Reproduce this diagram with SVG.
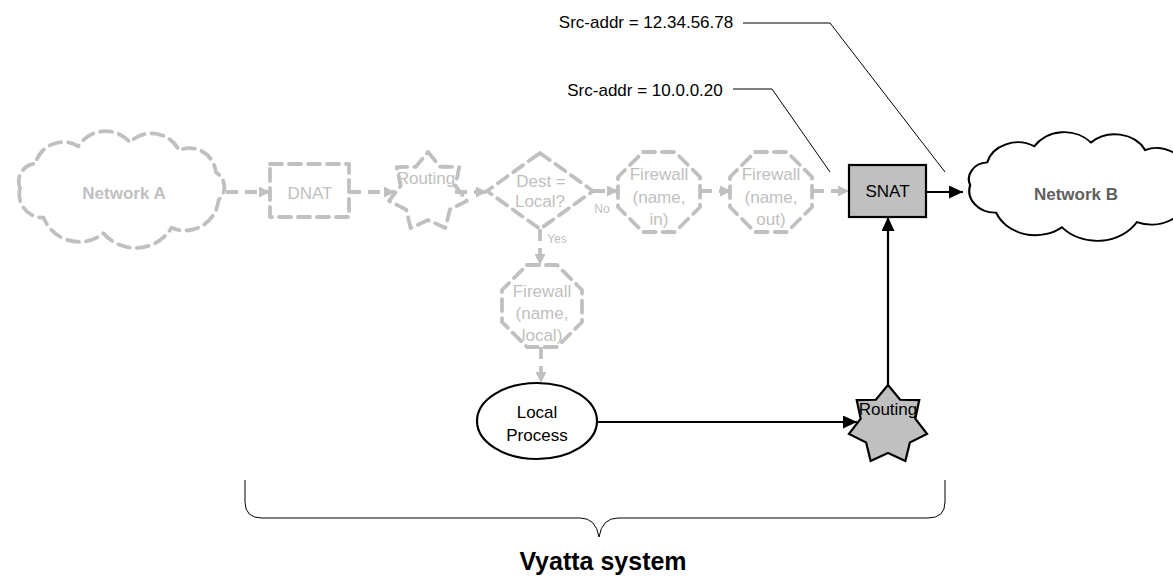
<svg xmlns="http://www.w3.org/2000/svg" width="1173" height="582" viewBox="0 0 1173 582">
<style>
text{font-family:"Liberation Sans",Arial,sans-serif;font-size:17px;text-anchor:middle}
.g{fill:none;stroke:#c0c0c0;stroke-width:3.8;stroke-dasharray:12 7;stroke-linecap:round;stroke-linejoin:round}
.gt{fill:#c0c0c0}
.gs{font-size:12px}
.big{font-size:25px;font-weight:bold}
.k{fill:none;stroke:#000;stroke-width:2.2}
.kf{fill:#c0c0c0;stroke:#000;stroke-width:2.2;stroke-linejoin:miter}
.thin{fill:none;stroke:#000;stroke-width:1}
.gc{fill:none;stroke:#c0c0c0;stroke-width:3.8;stroke-dasharray:12 7;marker-end:url(#ag)}
.kc{fill:none;stroke:#000;stroke-width:2.2;marker-end:url(#ak)}
</style>
<defs>
<marker id="ag" markerUnits="userSpaceOnUse" markerWidth="11" markerHeight="11" refX="11" refY="5.5" orient="auto"><path d="M0,0 L11,5.5 L0,11 Z" fill="#c0c0c0"/></marker>
<marker id="ak" markerUnits="userSpaceOnUse" markerWidth="14" markerHeight="13" refX="14" refY="6.5" orient="auto"><path d="M0,0 L14,6.5 L0,13 Z" fill="#000"/></marker>
<path id="cloud" d="M20,188 A17.9,17.9 0 0 1 35.4,163.6 A28.7,28.7 0 0 1 78.3,146.3 A32,32 0 0 1 129.8,142.2 A30.9,30.9 0 0 1 179,150.3 A26.6,26.6 0 0 1 215.9,172.3 A17.2,17.2 0 0 1 218.6,199.9 A33.9,33.9 0 0 1 171.5,227.8 A42.3,42.3 0 0 1 103.4,233.3 A38.3,38.3 0 0 1 43.6,217.6 A23.5,23.5 0 0 1 20,188 Z"/>
</defs>
<g id="connectors">
<path class="gc" d="M226,192 H270"/>
<path class="gc" d="M349,192 H395"/>
<path class="gc" d="M455,192 H487"/>
<path class="gc" d="M593,191 H618"/>
<path class="gc" d="M700,191 H731"/>
<path class="gc" d="M812,191 H849"/>
<path class="gc" d="M540,229 V265"/>
<path class="gc" d="M541,347 V383"/>
<path class="kc" d="M926,192 H963"/>
<path class="kc" d="M597,422 H857"/>
<path class="kc" d="M888,385 V217"/>
<text class="gt gs" x="602" y="213">No</text>
<text class="gt gs" x="557" y="243">Yes</text>
<path class="thin" d="M743,23 H830 L945,172"/>
<path class="thin" d="M733,89 H772 L830,172"/>
</g>
<g id="network-a">
<use href="#cloud" class="g"/>
<text class="gt" x="124" y="199" font-weight="bold">Network A</text>
</g>
<g id="dnat">
<rect class="g" x="270" y="164" width="79" height="53"/>
<text class="gt" x="310" y="199">DNAT</text>
</g>
<g id="routing-1">
<polygon class="g" points="428,152 440.15,166.77 459.27,167.06 455.3,185.77 467,200.9 449.89,209.46 445.36,228.04 428,220 410.64,228.04 406.11,209.46 389,200.9 400.7,185.77 396.73,167.06 415.85,166.77"/>
<text class="gt" x="426" y="184">Routing</text>
</g>
<g id="dest-local">
<polygon class="g" points="540,153 593,191 540,229 487,191"/>
<text class="gt" x="541" y="187">Dest =</text>
<text class="gt" x="540" y="207">Local?</text>
</g>
<g id="firewall-in">
<polygon class="g" points="643,152 675,152 700,177 700,207 675,232 643,232 618,207 618,177"/>
<text class="gt" x="659" y="180">Firewall</text>
<text class="gt" x="659" y="203">(name,</text>
<text class="gt" x="659" y="225">in)</text>
</g>
<g id="firewall-out">
<polygon class="g" points="755,152 787,152 812,177 812,207 787,232 755,232 730,207 730,177"/>
<text class="gt" x="771" y="180">Firewall</text>
<text class="gt" x="771" y="203">(name,</text>
<text class="gt" x="771" y="225">out)</text>
</g>
<g id="firewall-local">
<polygon class="g" points="527,265 557,265 582,290 582,322 557,347 527,347 502,322 502,290"/>
<text class="gt" x="542" y="297">Firewall</text>
<text class="gt" x="542" y="319">(name,</text>
<text class="gt" x="542" y="341">local)</text>
</g>
<g id="snat">
<rect class="kf" x="849" y="165" width="77" height="52"/>
<text x="887.5" y="197">SNAT</text>
</g>
<g id="network-b">
<use href="#cloud" fill="#fff" stroke="#000" stroke-width="2" vector-effect="non-scaling-stroke" transform="translate(1078,186.5) scale(1.1,0.93) translate(-118,-189.5)"/>
<text x="1076" y="200" font-weight="bold" fill="#606060">Network B</text>
</g>
<g id="local-process">
<ellipse class="k" cx="537" cy="421" rx="60" ry="38" fill="#fff"/>
<text x="537" y="418">Local</text>
<text x="537" y="441">Process</text>
</g>
<g id="routing-2">
<polygon class="kf" points="888,385 900.15,399.77 919.27,400.06 915.3,418.77 927,433.9 909.89,442.46 905.36,461.04 888,453 870.64,461.04 866.11,442.46 849,433.9 860.7,418.77 856.73,400.06 875.85,399.77"/>
<text x="888" y="415">Routing</text>
</g>
<g id="labels">
<text x="646" y="28">Src-addr = 12.34.56.78</text>
<text x="645" y="96">Src-addr = 10.0.0.20</text>
</g>
<g id="vyatta-system">
<path class="thin" stroke="#333" d="M245,480 V502 Q245,518 262,518 H580 Q596,518 599,537 Q602,518 618,518 H928 Q945,518 945,502 V480"/>
<text class="big" x="603" y="570">Vyatta system</text>
</g>
</svg>
